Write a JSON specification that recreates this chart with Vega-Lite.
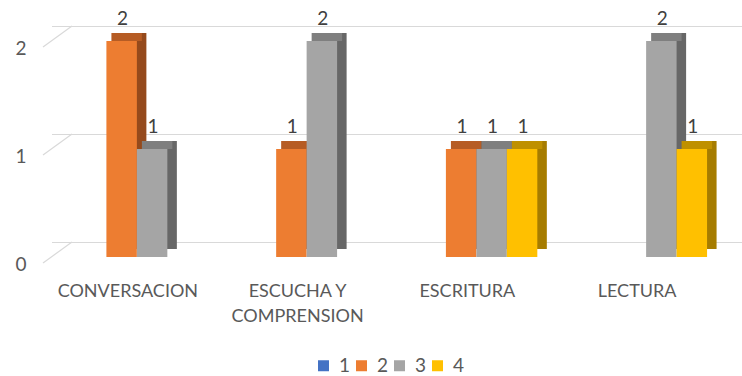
{
  "$schema": "https://vega.github.io/schema/vega-lite/v6.json",
  "autosize": "none",
  "padding": {"left": 52, "top": 41, "right": 11, "bottom": 119},
  "width": 679,
  "height": 216,
  "background": "white",
  "config": {"view": {"stroke": null}, "font": "Lato"},
  "data": {"values": [
    {"cat": "CONVERSACION", "s": "2", "v": 2},
    {"cat": "CONVERSACION", "s": "3", "v": 1},
    {"cat": "ESCUCHA Y COMPRENSION", "s": "2", "v": 1},
    {"cat": "ESCUCHA Y COMPRENSION", "s": "3", "v": 2},
    {"cat": "ESCRITURA", "s": "2", "v": 1},
    {"cat": "ESCRITURA", "s": "3", "v": 1},
    {"cat": "ESCRITURA", "s": "4", "v": 1},
    {"cat": "LECTURA", "s": "3", "v": 2},
    {"cat": "LECTURA", "s": "4", "v": 1}
  ]},
  "resolve": {"scale": {"xOffset": "independent", "color": "independent"}},
  "layer": [
    {
      "data": {"values": [{"g": 0}, {"g": 1}, {"g": 2}]},
      "mark": {"type": "rule", "color": "#D9D9D9", "strokeWidth": 1.2, "xOffset": 20, "x2Offset": 11, "yOffset": -14.5},
      "encoding": {
        "y": {"field": "g", "type": "quantitative", "scale": {"domain": [0, 2], "nice": false}, "axis": {"values": [0, 1, 2], "labelExpr": "format(datum.value, '.0f')", "title": null, "domain": false, "ticks": false, "tickSize": 0, "grid": false, "labelOverlap": false, "labelPadding": 26, "labelFontSize": 19, "labelColor": "#595959", "labelOffset": 7}}
      }
    },
    {
      "data": {"values": [{"g": 0}, {"g": 1}, {"g": 2}]},
      "mark": {"type": "rule", "color": "#D9D9D9", "strokeWidth": 1.2, "xOffset": -9, "x2Offset": 20, "yOffset": 6, "y2Offset": -15},
      "encoding": {
        "y": {"field": "g", "type": "quantitative"},
        "y2": {"field": "g"},
        "x": {"value": 0},
        "x2": {"value": 0}
      }
    },
    {
      "mark": {"type": "bar", "yOffset": -8, "y2Offset": -8},
      "encoding": {
        "x": {"field": "cat", "type": "nominal", "sort": null, "scale": {"paddingInner": 0.282, "paddingOuter": 0.141}, "axis": {"title": null, "domain": false, "ticks": false, "tickSize": 0, "labelPadding": 25, "labelFontSize": 18, "labelColor": "#595959", "labelAngle": 0, "labelOffset": -9, "labelLimit": 0, "labelLineHeight": 25, "labelBaseline": "top", "labelExpr": "datum.value == 'ESCUCHA Y COMPRENSION' ? ['ESCUCHA Y', 'COMPRENSION'] : datum.value"}},
        "xOffset": {"field": "s", "type": "nominal", "scale": {"domain": ["1", "2", "3", "4"], "range": [9.5, 131.4]}},
        "y": {"field": "v", "type": "quantitative"},
        "y2": {"datum": 0},
        "color": {"field": "s", "type": "nominal", "scale": {"domain": ["1", "2", "3", "4"], "range": ["#2F528F", "#954A1C", "#676767", "#A67C00"]}, "legend": null}
      }
    },
    {
      "mark": {"type": "bar", "yOffset": -8, "y2Offset": 0},
      "encoding": {
        "x": {"field": "cat", "type": "nominal", "sort": null},
        "xOffset": {"field": "s", "type": "nominal", "scale": {"domain": ["1", "2", "3", "4"], "range": [5, 126.9]}},
        "y": {"field": "v", "type": "quantitative"},
        "y2": {"field": "v"},
        "color": {"field": "s", "type": "nominal", "scale": {"domain": ["1", "2", "3", "4"], "range": ["#3A62A8", "#B65C24", "#7F7F7F", "#BF9000"]}, "legend": null}
      }
    },
    {
      "mark": {"type": "bar"},
      "encoding": {
        "x": {"field": "cat", "type": "nominal", "sort": null},
        "xOffset": {"field": "s", "type": "nominal", "scale": {"domain": ["1", "2", "3", "4"]}},
        "y": {"field": "v", "type": "quantitative"},
        "color": {"field": "s", "type": "nominal", "scale": {"domain": ["1", "2", "3", "4"], "range": ["#4472C4", "#ED7D31", "#A5A5A5", "#FFC000"]}, "legend": {"title": null, "orient": "none", "legendX": 262, "legendY": 315, "direction": "horizontal", "symbolType": "square", "symbolSize": 121, "symbolStrokeWidth": 0, "labelFontSize": 19, "labelColor": "#595959", "labelOffset": 6, "columnPadding": 1}}
      }
    },
    {
      "mark": {"type": "text", "dy": -16, "dx": 1, "baseline": "alphabetic", "fontSize": 19, "color": "#404040"},
      "encoding": {
        "x": {"field": "cat", "type": "nominal", "sort": null},
        "xOffset": {"field": "s", "type": "nominal", "scale": {"domain": ["1", "2", "3", "4"]}},
        "y": {"field": "v", "type": "quantitative"},
        "text": {"field": "v", "type": "quantitative"}
      }
    }
  ]
}
